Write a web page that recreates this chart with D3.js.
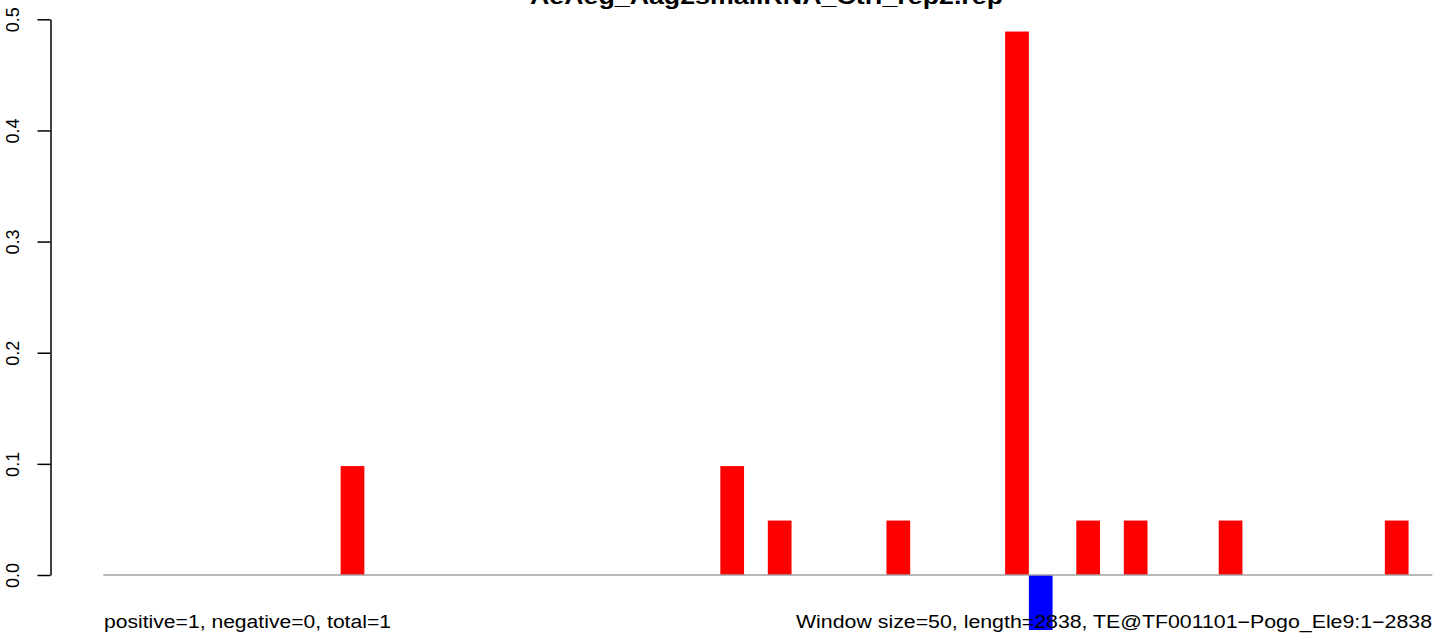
<!DOCTYPE html>
<html>
<head>
<meta charset="utf-8">
<script src="https://cdn.jsdelivr.net/npm/d3@7"></script>
<style>
  html, body { margin: 0; padding: 0; background: #fff; }
  svg { display: block; font-family: "Liberation Sans", Arial, Helvetica, sans-serif; }
</style>
</head>
<body>
<svg id="chart" width="1444" height="641"></svg>
<script>
// ---- data ----
const titleText = "AeAeg_Aag2smallRNA_Ctrl_rep2.rep";
const leftNote = "positive=1, negative=0, total=1";
const rightNote = "Window size=50, length=2838, TE@TF001101\u2212Pogo_Ele9:1\u22122838";
const nWindows = 56;
const posWindows = [10, 26, 28, 33, 38, 41, 43, 47, 54];
const posValues  = [0.098, 0.098, 0.049, 0.049, 0.489, 0.049, 0.049, 0.049, 0.049];
const negWindows = [39];
const negValues  = [-0.0495];
const yTicks = [0, 0.1, 0.2, 0.3, 0.4, 0.5];

// ---- layout ----
const svg = d3.select("#chart");
const x = d3.scaleLinear().domain([0, nWindows]).range([103.3, 1432.3]);
const y = d3.scaleLinear().domain([0, 0.5]).range([575, 19.3]);

// bars
const pos = posWindows.map((w, i) => ({w, v: posValues[i]}));
const neg = negWindows.map((w, i) => ({w, v: negValues[i]}));

svg.append("g").selectAll("rect").data(pos).join("rect")
  .attr("x", d => x(d.w))
  .attr("width", d => x(d.w + 1) - x(d.w))
  .attr("y", d => y(d.v))
  .attr("height", d => y(0) - y(d.v))
  .attr("fill", "#ff0000");

svg.append("g").selectAll("rect").data(neg).join("rect")
  .attr("x", d => x(d.w))
  .attr("width", d => x(d.w + 1) - x(d.w))
  .attr("y", y(0))
  .attr("height", d => y(d.v) - y(0))
  .attr("fill", "#0000ff");

// baseline
svg.append("line")
  .attr("x1", x(0)).attr("x2", x(nWindows))
  .attr("y1", y(0)).attr("y2", y(0))
  .attr("stroke", "#a0a0a0").attr("stroke-width", 1.5);

// y axis
const yAxis = d3.axisLeft(y).tickValues(yTicks).tickFormat(d3.format(".1f"))
  .tickSize(13).tickSizeOuter(0);
const gy = svg.append("g").attr("transform", "translate(50.5,0)").call(yAxis);
gy.select(".domain").attr("stroke", "#000").attr("stroke-width", 1.5);
gy.selectAll(".tick line").attr("stroke", "#000").attr("stroke-width", 1.5);
gy.selectAll(".tick text")
  .attr("font-size", 18)
  .attr("font-family", "Liberation Sans, Arial, sans-serif")
  .attr("fill", "#000")
  .attr("text-anchor", "middle")
  .attr("dy", 0)
  .attr("x", 0)
  .attr("transform", "translate(-32,0) rotate(-90)");

// title
svg.append("text")
  .attr("x", 766.5).attr("y", 4)
  .attr("text-anchor", "middle")
  .attr("font-size", 22).attr("font-weight", "bold")
  .attr("textLength", 473).attr("lengthAdjust", "spacingAndGlyphs")
  .text(titleText);

// bottom notes
svg.append("text")
  .attr("x", 104).attr("y", 628)
  .attr("font-size", 18)
  .attr("textLength", 287).attr("lengthAdjust", "spacingAndGlyphs")
  .text(leftNote);

svg.append("text")
  .attr("x", 1432).attr("y", 628)
  .attr("text-anchor", "end")
  .attr("font-size", 18)
  .attr("textLength", 636).attr("lengthAdjust", "spacingAndGlyphs")
  .text(rightNote);
</script>
</body>
</html>
